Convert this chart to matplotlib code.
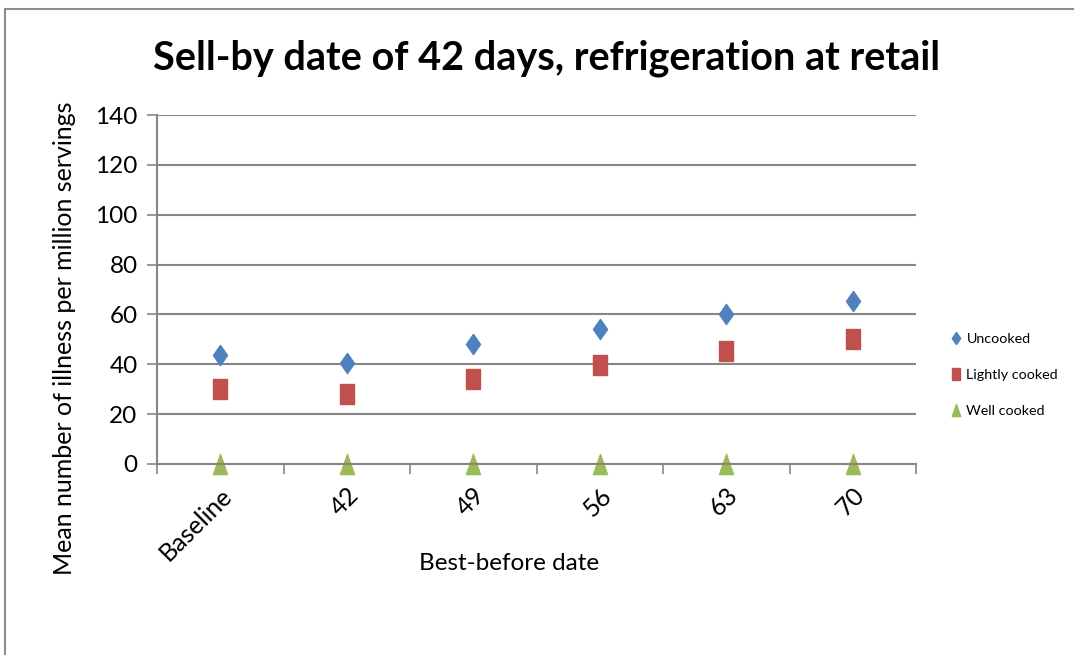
import matplotlib.pyplot as plt
from matplotlib.path import Path
from matplotlib.patches import Rectangle
import numpy as np

categories = ['Baseline', '42', '49', '56', '63', '70']
uncooked = [43.6, 40.6, 48.3, 54.3, 60.3, 65.3]
lightly_cooked = [30.1, 28.0, 34.2, 39.8, 45.3, 50.0]
well_cooked = [0, 0, 0, 0, 0, 0]

plt.rcParams['font.family'] = ['Lato', 'DejaVu Sans']

# markers are stretched vertically like in the original chart
r = 0.7
diamond = Path([(0, 1), (r, 0), (0, -1), (-r, 0), (0, 1)], closed=True)
square = Path([(-r, -1), (r, -1), (r, 1), (-r, 1), (-r, -1)], closed=True)
triangle = Path([(0, 1), (r, -1), (-r, -1), (0, 1)], closed=True)

fig = plt.figure(figsize=(10.74, 6.55), dpi=100)
ax = fig.add_axes([157 / 1074, 1 - 464 / 655, 759 / 1074, 349 / 655])

x = np.arange(len(categories)) + 0.5
ms = 14.5
ax.plot(x, uncooked, linestyle='none', marker=diamond, markersize=ms,
        color='#4F81BD', label='Uncooked')
ax.plot(x, lightly_cooked, linestyle='none', marker=square, markersize=ms,
        color='#C0504D', label='Lightly cooked')
ax.plot(x, well_cooked, linestyle='none', marker=triangle, markersize=ms,
        color='#9BBB59', label='Well cooked', clip_on=False)

ax.set_xlim(0, len(categories))
ax.set_ylim(0, 140)
ax.set_yticks(range(0, 141, 20))
ax.yaxis.grid(True, color='#868686', linewidth=1.5)
ax.set_axisbelow(True)

ax.set_xticks(range(len(categories) + 1))
ax.set_xticklabels([])
ax.set_xticks(x, minor=True)
ax.set_xticklabels(categories, minor=True, rotation=45, ha='right',
                   rotation_mode='anchor', fontsize=18)
ax.tick_params(axis='x', which='minor', length=0, pad=14)
ax.tick_params(axis='x', which='major', length=7, color='#868686', width=1.2)
ax.tick_params(axis='y', length=7, color='#868686', width=1.2, labelsize=17.5, pad=7)

for s in ['top', 'right']:
    ax.spines[s].set_visible(False)
for s in ['left', 'bottom']:
    ax.spines[s].set_color('#868686')
    ax.spines[s].set_linewidth(1.5)

ax.set_ylabel('Mean number of illness per million servings', fontsize=18, labelpad=10)
ax.yaxis.set_label_coords(-0.107, 0.36)
ax.set_xlabel('Best-before date', fontsize=17.5)
ax.xaxis.set_label_coords(0.464, -0.255)
ax.set_title('Sell-by date of 42 days, refrigeration at retail',
             fontsize=28.5, fontweight='bold', x=0.513, pad=33)

ax.legend(loc='center left', bbox_to_anchor=(1.025, 0.255), frameon=False,
          fontsize=10.3, handletextpad=0.1, labelspacing=1.65, markerscale=0.6,
          handlelength=1.2)

# outer chart border (cut by the image edges)
fig.patches.append(Rectangle((4.5 / 1074, -0.1), 1.2, 1 - 9.5 / 655 + 0.1,
                             transform=fig.transFigure, fill=False,
                             edgecolor='#8C8C8C', linewidth=1.5))

plt.savefig('out.png', dpi=100)
